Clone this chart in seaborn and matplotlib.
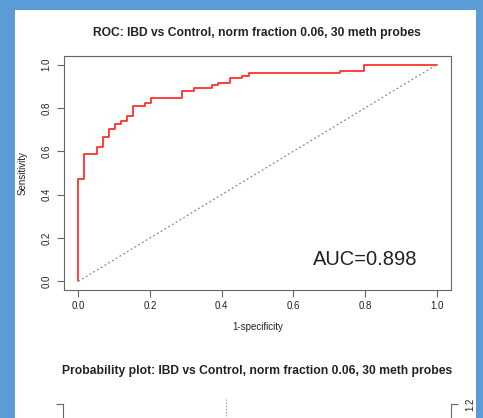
import numpy as np
import pandas as pd
import matplotlib
matplotlib.use("Agg")
import matplotlib.pyplot as plt
from matplotlib.patches import Rectangle
import seaborn as sns

# --- ROC curve corner points ---
fpr = [0.0, 0.0, 0.017, 0.051, 0.068, 0.085, 0.102, 0.119, 0.136, 0.153,
       0.186, 0.203, 0.288, 0.322, 0.373, 0.390, 0.424, 0.458, 0.475,
       0.729, 0.797, 1.0]
tpr = [0.0, 0.471, 0.587, 0.622, 0.668, 0.704, 0.727, 0.741, 0.762, 0.810,
       0.823, 0.844, 0.878, 0.892, 0.904, 0.915, 0.938, 0.950, 0.962,
       0.971, 1.0, 1.0]
auc_value = 0.898
x_ticks = [0.0, 0.2, 0.4, 0.6, 0.8, 1.0]
y_ticks = [0.0, 0.2, 0.4, 0.6, 0.8, 1.0]

title_roc = "ROC: IBD vs Control, norm fraction 0.06, 30 meth probes"
title_prob = "Probability plot: IBD vs Control, norm fraction 0.06, 30 meth probes"
prob_threshold_x = 0.42
prob_ticks = [1.2]

sns.set_style("white")
plt.rcParams['font.family'] = ['Liberation Sans', 'DejaVu Sans']

W, H = 483, 418
fig = plt.figure(figsize=(W / 100, H / 100), dpi=100)
fig.patch.set_facecolor('#5b9bd6')
fig.add_artist(Rectangle((15 / W, 0), (476 - 15) / W, (H - 10) / H,
                         transform=fig.transFigure, facecolor='white',
                         edgecolor='none', zorder=-1))

def px_axes(left, top, right, bottom):
    return fig.add_axes([left / W, 1 - bottom / H, (right - left) / W, (bottom - top) / H])

axis_col = '#666666'
text_col = '#222222'

# --- 1. ROC plot ---
ax = px_axes(64, 56, 451, 290)
roc_df = pd.DataFrame({'fpr': fpr, 'tpr': tpr})
sns.lineplot(data=roc_df, x='fpr', y='tpr', estimator=None, sort=False,
             drawstyle='steps-post', color='#ff3030', linewidth=1.3, ax=ax)
ax.plot([0, 1], [0, 1], linestyle=(0, (1.5, 2)), color='#888888', linewidth=0.9)
ax.set_xlim(-0.04, 1.04)
ax.set_ylim(-0.04, 1.04)
ax.set_xticks(x_ticks)
ax.set_yticks(y_ticks)
ax.set_xticklabels([f"{v:.1f}" for v in x_ticks])
ax.set_yticklabels([f"{v:.1f}" for v in y_ticks])
for lab in ax.get_yticklabels():
    lab.set_rotation(90)
    lab.set_va('center')
ax.tick_params(direction='out', length=5, width=0.8, color=axis_col,
               labelsize=7, labelcolor=text_col, bottom=True, left=True)
ax.tick_params(axis='x', pad=3)
ax.tick_params(axis='y', pad=4)
for sp in ax.spines.values():
    sp.set_color(axis_col)
    sp.set_linewidth(0.8)
ax.set_xlabel("1-specificity", fontsize=7, color=text_col, labelpad=8)
ax.set_ylabel("Sensitivity", fontsize=7, color=text_col, labelpad=10)
ax.text(0.8, 0.1, f"AUC={auc_value:.3f}", ha='center', va='center',
        fontsize=14.5, color=text_col)
fig.text(257 / W, 1 - 33 / H, title_roc, ha='center', va='center',
         fontsize=8.75, fontweight='bold', color=text_col)

# --- 2. Probability plot (only its top is visible) ---
ax2 = px_axes(63, 397, 451, 572)
ax2.set_xlim(0, 1)
ax2.set_ylim(0, 1.25)
ax2.axvline(prob_threshold_x, linestyle=(0, (1, 1.5)), color='#999999', linewidth=0.9)
for side in ['top', 'bottom']:
    ax2.spines[side].set_visible(False)
for side in ['left', 'right']:
    ax2.spines[side].set_bounds(0, prob_ticks[-1])
    ax2.spines[side].set_color(axis_col)
    ax2.spines[side].set_linewidth(0.8)
ax2.set_xticks([])
ax2.set_yticks(prob_ticks)
ax2.set_yticklabels([f"{v:.1f}" for v in prob_ticks])
ax2.yaxis.set_ticks_position('both')
ax2.tick_params(axis='y', direction='out', length=5, width=0.8, color=axis_col,
                labelsize=7, labelcolor=text_col, labelleft=False, labelright=True,
                left=True, right=True, pad=5)
for lab in ax2.get_yticklabels():
    lab.set_rotation(90)
    lab.set_va('center')
fig.text(257.5 / W, 1 - 371 / H, title_prob, ha='center', va='center',
         fontsize=8.7, fontweight='bold', color=text_col)

fig.savefig("out.png", dpi=100)
